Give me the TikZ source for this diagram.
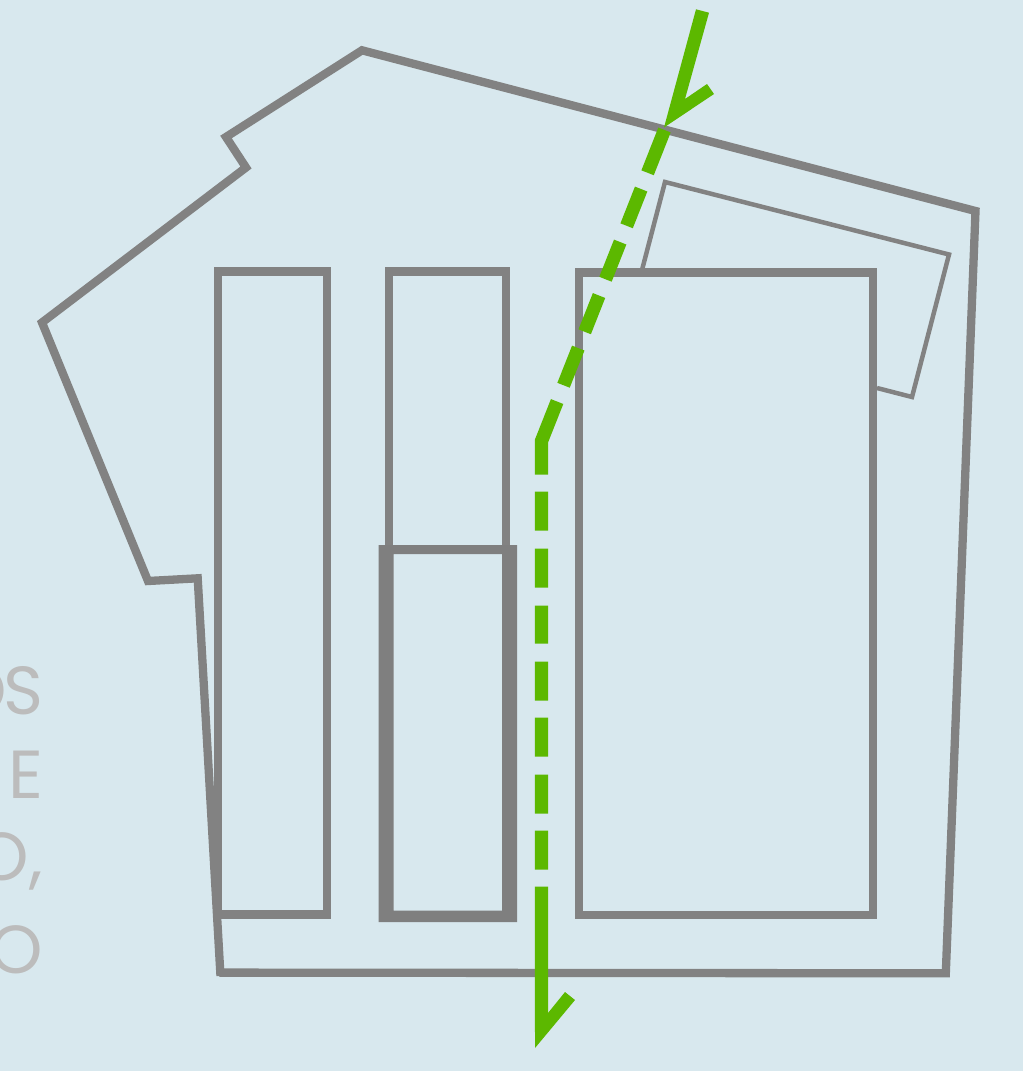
\documentclass[tikz,border=0pt]{standalone}
\usepackage{fontspec}
\setmainfont{Poppins}
\definecolor{bgc}{HTML}{D8E8EE}
\definecolor{wall}{HTML}{828282}
\definecolor{wallb}{HTML}{7F7F7F}
\definecolor{gr}{HTML}{5CB800}
\definecolor{txt}{HTML}{BCBCBC}
\tikzset{
  wallline/.style={draw=wall,line width=#1,miter limit=10,line join=miter},
  wallline/.default=8.3pt,
  route/.style={draw=gr,line width=13.3pt,line join=miter},
  routehead/.style={fill=gr,draw=none},
  faded/.style={text=txt,font=\fontsize{68}{68}\selectfont,inner sep=0pt,anchor=base east}
}
\begin{document}
\begin{tikzpicture}[x=1pt,y=-1pt]
\useasboundingbox[fill=bgc] (0,0) rectangle (1023,1071);
% faded clipped text
\node[faded] (t1) at (44,714) {O\kern-3pt S};
\node[faded] (t2) at (44,798) {E};
\node[faded] (t3) at (43,880) {O,};
\node[faded] (t4) at (43,973) {O};
% outer outline
\draw[wallline] (219.5,972.6) -- (945.8,973.3) -- (975.5,211) -- (362,50.3) -- (226,137) -- (246,167.5) -- (42,322.5) -- (148,581) -- (197.7,578.3) -- (220.5,976);
% small back panel
\draw[wallline=4.5pt] (642,270) -- (665,182) -- (949,254.5) -- (912,397) -- (877,388);
% frames
\draw[wallline] (218,271.6) rectangle (327,914.6);
\draw[wallline] (389.2,549) -- (389.2,271.6) -- (506,271.6) -- (506,549);
\draw[wallline] (579,272.5) rectangle (873.2,914.8);
% heavy frame
\fill[wallb,even odd rule] (378.5,545) rectangle (517,922) (393.5,554) rectangle (502,910.5);
% route
\coordinate (a0) at (664.5,130);
\coordinate (a1) at (541.5,441);
\coordinate (a2) at (541.5,1032);
\coordinate (h1) at (535,1048);
\coordinate (h2) at (575,1000);
\coordinate (h3) at (565,992);
\coordinate (h4) at (548,1013);
\coordinate (b1) at (696,9.3);
\coordinate (b2) at (709,12.7);
\coordinate (b3) at (685,99);
\coordinate (b4) at (707,84);
\coordinate (b5) at (714,94);
\coordinate (b6) at (664,127.5);
\draw[route,dash pattern=on 46pt off 17.5pt on 39.5pt off 17.5pt on 40pt off 17.5pt on 39pt off 17.5pt on 40pt off 17.5pt on 76pt off 17pt on 39pt off 18pt on 39pt off 18pt on 38pt off 18pt on 39pt off 17pt on 39pt off 18pt on 39pt off 17pt on 39pt off 17pt on 300pt off 10pt]
  (a0) -- (a1) -- (a2);
\fill[routehead] (h1) -- (h2) -- (h3) -- (h4) -- (548,1030) -- (535,1030) -- cycle;
\fill[routehead] (b1) -- (b2) -- (b3) -- (b4) -- (b5) -- (b6) -- cycle;
\end{tikzpicture}
\end{document}
